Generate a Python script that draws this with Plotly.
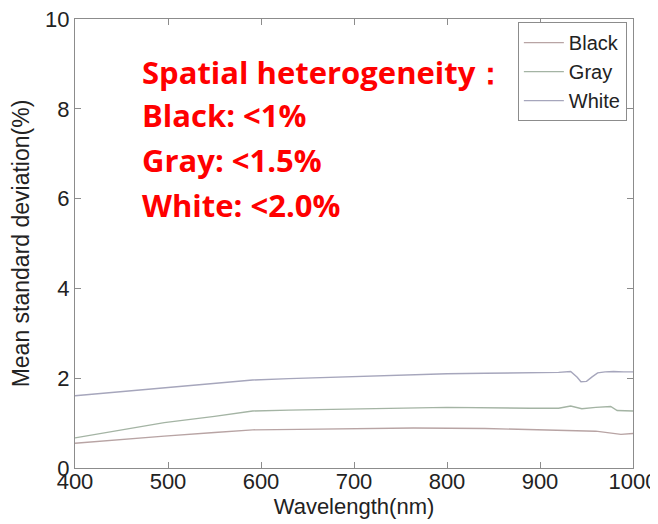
import plotly.graph_objects as go

# Data
wl_white = [400, 450, 500, 550, 591, 630, 674, 720, 764, 800, 841, 890, 920, 933, 940, 944, 950, 956, 962, 970, 979, 990, 1000]
white = [1.61, 1.70, 1.79, 1.88, 1.96, 1.99, 2.02, 2.05, 2.08, 2.10, 2.11, 2.12, 2.13, 2.15, 2.02, 1.92, 1.93, 2.03, 2.12, 2.14, 2.15, 2.14, 2.14]

wl_gray = [400, 450, 496, 550, 591, 630, 685, 740, 800, 890, 920, 933, 945, 960, 976, 983, 1000]
gray = [0.67, 0.84, 1.01, 1.15, 1.27, 1.29, 1.31, 1.33, 1.35, 1.33, 1.33, 1.38, 1.32, 1.35, 1.37, 1.28, 1.27]

wl_black = [400, 450, 496, 550, 591, 640, 700, 764, 841, 890, 940, 960, 987, 1000]
black = [0.55, 0.64, 0.71, 0.79, 0.85, 0.86, 0.87, 0.89, 0.88, 0.85, 0.82, 0.82, 0.75, 0.77]

series_names = ["Black", "Gray", "White"]
series_colors = ["#b8a4a4", "#a4b4a4", "#a6a6bc"]

annotation_lines = ["Spatial heterogeneity：", "Black: <1%", "Gray: <1.5%", "White: <2.0%"]
annotation_y = [0.882, 0.786, 0.686, 0.586]

fig = go.Figure()
for name, xs, ys, col in zip(series_names, [wl_black, wl_gray, wl_white], [black, gray, white], series_colors):
    fig.add_trace(go.Scatter(x=xs, y=ys, mode="lines", name=name,
                             line=dict(color=col, width=1.4)))

for txt, yy in zip(annotation_lines, annotation_y):
    fig.add_annotation(
        x=0.116, y=yy, xref="paper", yref="paper", xanchor="left", yanchor="middle",
        text=txt, align="left", showarrow=False,
        font=dict(family="Open Sans, Lato, sans-serif", size=31, color="#ff0000", weight="bold"),
    )

axis_common = dict(showline=True, linecolor="#8c8c8c", linewidth=1, mirror="ticks",
                   ticks="inside", ticklen=6, tickcolor="#8c8c8c", showgrid=False,
                   zeroline=False, automargin=False, ticklabeloverflow="allow",
                   tickfont=dict(family="Liberation Sans, Arial", size=22, color="#222222"))

fig.update_xaxes(range=[400, 1000], tickvals=[400, 500, 600, 700, 800, 900, 1000],
                 ticklabelstandoff=-6,
                 title=dict(text="Wavelength(nm)", standoff=0,
                            font=dict(family="Liberation Sans, Arial", size=22, color="#222222")),
                 **axis_common)
fig.update_yaxes(range=[0, 10], tickvals=[0, 2, 4, 6, 8, 10],
                 title=dict(text="Mean standard deviation(%)", standoff=12,
                            font=dict(family="Liberation Sans, Arial", size=23, color="#222222")),
                 **axis_common)

# The page body has an 8px margin; size the figure so the plot area lands where the reference has it.
fig.update_layout(
    width=650, height=516,
    margin=dict(l=67, r=25, t=11, b=56),
    plot_bgcolor="white", paper_bgcolor="white",
    legend=dict(x=0.989, y=0.993, xanchor="right", yanchor="top",
                bordercolor="#8c8c8c", borderwidth=1, bgcolor="white",
                font=dict(family="Liberation Sans, Arial", size=20, color="#222222"),
                itemwidth=40, tracegroupgap=0),
)

fig.write_html("out.html")
